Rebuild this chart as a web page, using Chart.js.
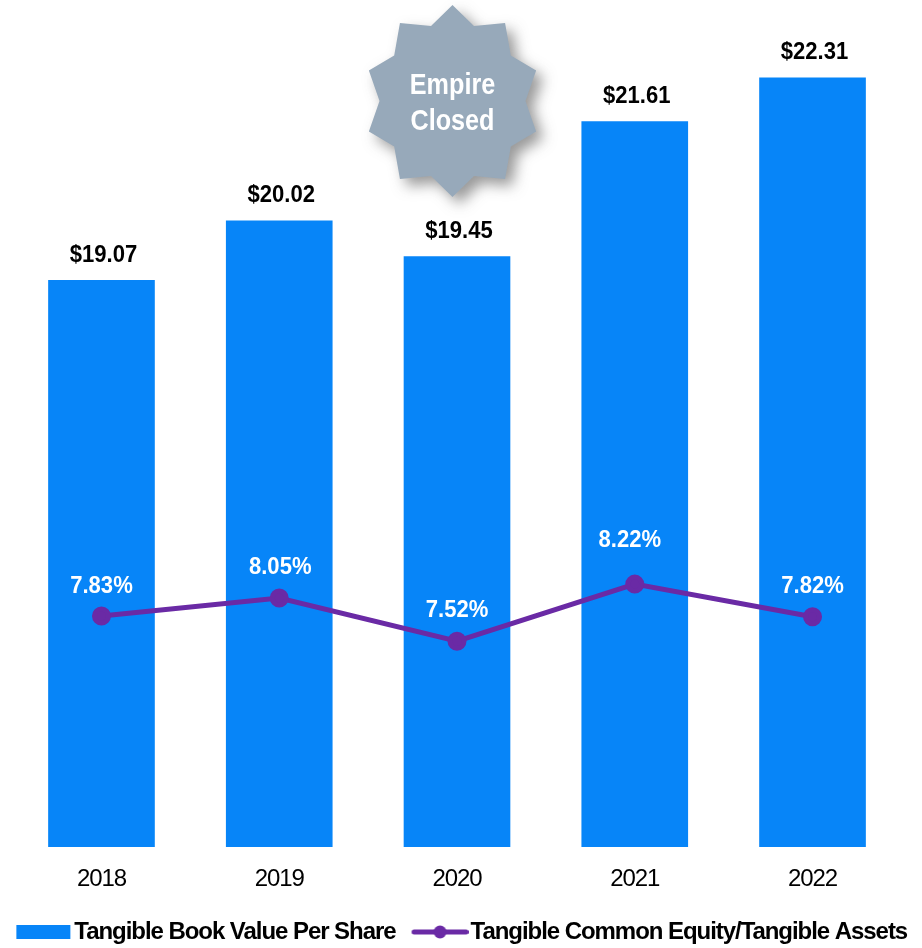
<!DOCTYPE html>
<html><head><meta charset="utf-8">
<style>html,body{margin:0;padding:0;background:#fff}#w{width:922px;height:948px}</style>
<script src="https://cdn.jsdelivr.net/npm/chart.js@4"></script></head>
<body><div id="w"><canvas id="c" width="922" height="948"></canvas></div>
<script>
const categories = ['2018','2019','2020','2021','2022'];
const bookValue = [19.07,20.02,19.45,21.61,22.31];
const equityRatio = [7.83,8.05,7.52,8.22,7.82];
const bookLabels = ['$19.07','$20.02','$19.45','$21.61','$22.31'];
const ratioLabels = ['7.83%','8.05%','7.52%','8.22%','7.82%'];
const ratioLabelLift = [30,31,31,44,31];
const ratioLabelNudge = [0,1,0,-5,0];
const barName = 'Tangible Book Value Per Share';
const lineName = 'Tangible Common Equity/Tangible Assets';
const badgeLines = ['Empire','Closed'];
const FF = '"Liberation Sans", Arial, sans-serif';
const BLUE = '#0785f8', PURPLE = '#6a2aa5', BADGE = '#97a9ba';
const SPACING = '-1.05px';

function swatch(kind){
  const c = document.createElement('canvas'); c.width = 58; c.height = 16;
  const g = c.getContext('2d');
  if(kind==='bar'){ g.fillStyle = BLUE; g.fillRect(2,1,54,14); }
  else { g.strokeStyle = PURPLE; g.lineWidth = 5; g.lineCap='round'; g.beginPath(); g.moveTo(3.5,8); g.lineTo(55.5,8); g.stroke();
    g.fillStyle = PURPLE; g.beginPath(); g.arc(29.5,8,6.5,0,Math.PI*2); g.fill(); }
  return c;
}
function squeezed(ctx,text,x,y,sx){
  ctx.save(); ctx.translate(x,y); ctx.scale(sx,1); ctx.fillText(text,0,0); ctx.restore();
}
const setSpacing = { id:'sp',
  beforeUpdate(ch){ ch.ctx.letterSpacing = SPACING; },
  beforeLayout(ch){ ch.ctx.letterSpacing = SPACING; },
  beforeDraw(ch){ ch.ctx.letterSpacing = SPACING; }
};
const overlay = { id:'overlay',
  afterDraw(ch){
    const ctx = ch.ctx; ctx.save(); ctx.letterSpacing = '0px';
    ctx.textAlign='center'; ctx.textBaseline='middle';
    const bars = ch.getDatasetMeta(0).data, pts = ch.getDatasetMeta(1).data;
    ctx.font = 'bold 24.5px '+FF; ctx.fillStyle = '#000';
    bars.forEach((b,i)=>squeezed(ctx,bookLabels[i],b.x+2,b.y-25,0.9));
    ctx.fillStyle = '#fff';
    pts.forEach((p,i)=>squeezed(ctx,ratioLabels[i],p.x+ratioLabelNudge[i],p.y-ratioLabelLift[i],0.9));
    const cx = bars[2].x-4.5, cy = 101;
    const rad = [[0,96],[16,78],[34,94],[52,74],[70,89],[90,73],[110,89],[128,74],[146,94],[164,78],[180,96],[196,78],[214,94],[232,74],[250,89],[270,73],[290,89],[308,74],[326,94],[344,78]];
    ctx.save();
    ctx.shadowColor='rgba(70,70,70,0.55)'; ctx.shadowBlur=14; ctx.shadowOffsetX=7; ctx.shadowOffsetY=7;
    ctx.fillStyle=BADGE; ctx.beginPath();
    rad.forEach(([a,r],i)=>{ const t=a*Math.PI/180, x=cx+r*Math.sin(t), y=cy-r*Math.cos(t); i?ctx.lineTo(x,y):ctx.moveTo(x,y); });
    ctx.closePath(); ctx.fill(); ctx.restore();
    ctx.font='bold 30px '+FF; ctx.fillStyle='#fff';
    squeezed(ctx,badgeLines[0],cx,86,0.84);
    squeezed(ctx,badgeLines[1],cx,122,0.84);
    ctx.restore();
  }
};
new Chart(document.getElementById('c'),{
  data:{ labels:categories, datasets:[
    {type:'bar',label:barName,data:bookValue,backgroundColor:BLUE,yAxisID:'y',categoryPercentage:1,barPercentage:0.6,order:2},
    {type:'line',label:lineName,data:equityRatio,borderColor:PURPLE,backgroundColor:PURPLE,borderWidth:5,pointRadius:7,pointHoverRadius:7,yAxisID:'y2',tension:0,order:1}
  ]},
  options:{ responsive:false, animation:false, events:[],
    layout:{padding:{top:33,bottom:-6,left:-10,right:-19.5}},
    plugins:{ tooltip:{enabled:false},
      legend:{position:'bottom',labels:{
        font:{family:FF,size:24,weight:'bold'},color:'#000',usePointStyle:true,pointStyleWidth:38,padding:25,
        generateLabels(){ return [
          {text:barName,pointStyle:swatch('bar'),fontColor:'#000',datasetIndex:0,lineWidth:0},
          {text:lineName,pointStyle:swatch('line'),fontColor:'#000',datasetIndex:1,lineWidth:0}];}
      }}
    },
    scales:{
      x:{grid:{display:false},border:{display:false},ticks:{color:'#000',font:{family:FF,size:24},padding:10,maxRotation:0},afterFit(s){s.height=48;}},
      y:{position:'left',min:10,max:23.02,display:true,grid:{display:false},border:{display:false},ticks:{display:false},afterFit(s){s.width=22.6;}},
      y2:{position:'right',min:5,max:14.97,display:true,grid:{display:false},border:{display:false},ticks:{display:false},afterFit(s){s.width=40.1;}}
    }
  },
  plugins:[setSpacing,overlay]
});
</script></body></html>
